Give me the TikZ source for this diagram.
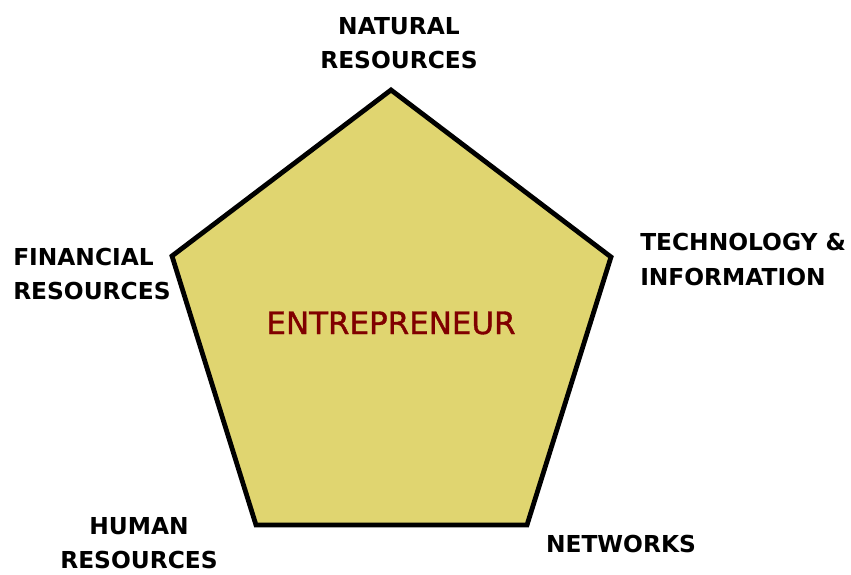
\documentclass[tikz,border=0pt]{standalone}
\usepackage{fontspec}
\setmainfont{DejaVu Sans}
\newfontfamily\heavyfont[FakeBold=1.2]{DejaVu Sans}
\usetikzlibrary{shapes,arrows}

\definecolor{padfill}{RGB}{224,213,112}
\definecolor{darkred}{RGB}{128,0,0}

\begin{document}
\begin{tikzpicture}[x=0.75pt,y=0.75pt]
		\tikzstyle {pentagon line} = [line width=3.6pt, line join=miter, fill=padfill]
		\tikzstyle {resource} = [inner sep=0pt, align=center, font=\bfseries\fontsize{17.5}{26}\selectfont]

		\useasboundingbox (0,0) rectangle (851,575);

		% corners of the pentagon
		\coordinate (top) at (391,485);
		\coordinate (right) at (611,318);
		\coordinate (lowright) at (527,50);
		\coordinate (lowleft) at (256,50);
		\coordinate (left) at (172,319);

		\draw[pentagon line] (top) -- (right) -- (lowright) -- (lowleft) -- (left) -- cycle;

		\node (entrepreneur) at (391,252) [text=darkred, inner sep=0pt, font=\heavyfont\fontsize{23.2}{28}\selectfont] {ENTREPRENEUR};

		% the five resources round it
		\node (natural) at (399,532) [resource] {NATURAL\\RESOURCES};
		\node (technology) at (640,315.5) [resource, anchor=west, align=left] {TECHNOLOGY \&\\INFORMATION};
		\node (financial) at (13,301) [resource, anchor=west, align=left] {FINANCIAL\\RESOURCES};
		\node (human) at (139,32) [resource] {HUMAN\\RESOURCES};
		\node (networks) at (621,31) [resource] {NETWORKS};

	\end{tikzpicture}
\end{document}
